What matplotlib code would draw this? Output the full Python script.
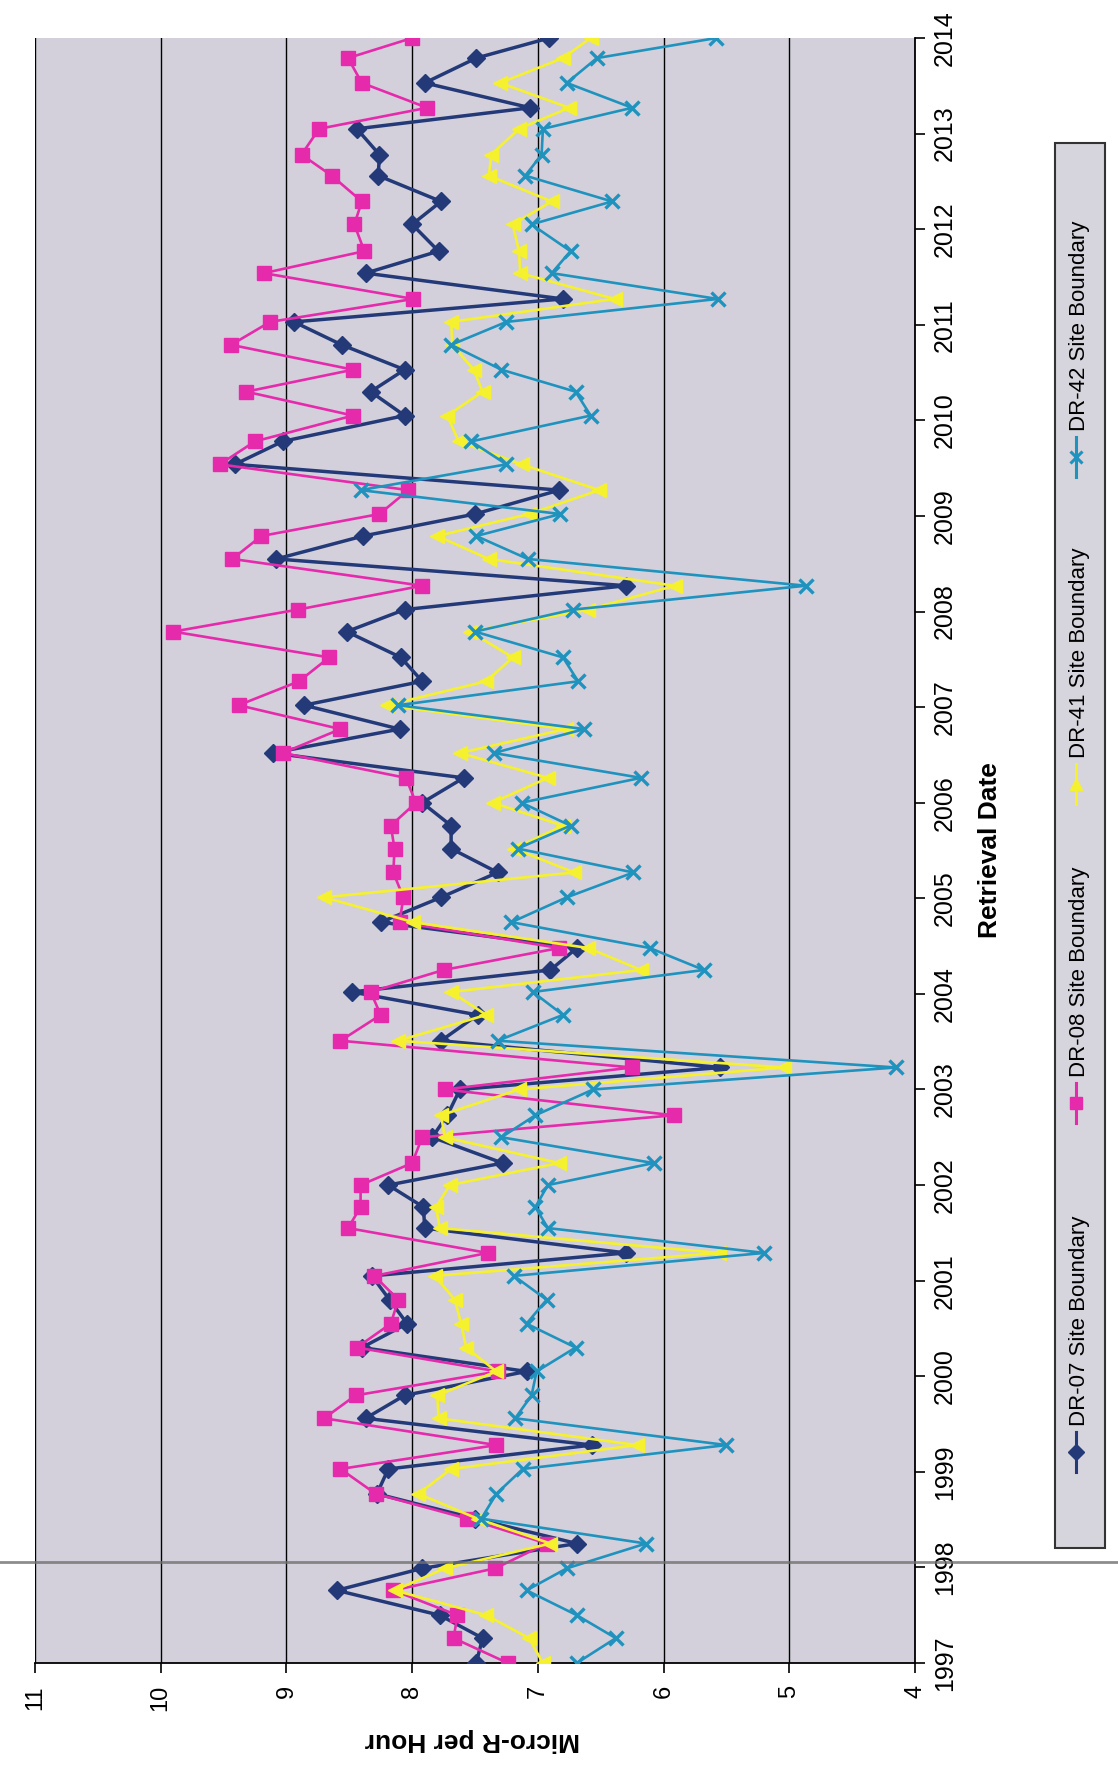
# Radiation monitoring chart (page is rotated: dates run upward, values run leftward)
import matplotlib
matplotlib.use("Agg")
import matplotlib.pyplot as plt
from matplotlib.lines import Line2D
from matplotlib.patches import Rectangle

# retrieval dates as decimal years
fechas = [1997.00, 1997.26, 1997.50, 1997.76, 1997.99,
          1998.25, 1998.51, 1998.77, 1999.03, 1999.28, 1999.56, 1999.80,
          2000.05, 2000.30, 2000.55, 2000.80, 2001.05, 2001.29, 2001.55, 2001.77,
          2002.00, 2002.23, 2002.50, 2002.73, 2003.00, 2003.23, 2003.51, 2003.78,
          2004.02, 2004.25, 2004.48, 2004.75, 2005.01, 2005.27, 2005.52, 2005.76,
          2006.00, 2006.26, 2006.52, 2006.77, 2007.02, 2007.27, 2007.52, 2007.79,
          2008.02, 2008.27, 2008.55, 2008.79, 2009.02, 2009.27, 2009.54, 2009.78,
          2010.05, 2010.30, 2010.53, 2010.79, 2011.03, 2011.27, 2011.54, 2011.77,
          2012.05, 2012.29, 2012.56, 2012.78, 2013.05, 2013.27, 2013.53, 2013.79, 2014.00]

# Micro-R per hour for each site
dr07 = [7.49, 7.44, 7.78, 8.60, 7.92,
        6.69, 7.50, 8.28, 8.19, 6.57, 8.37, 8.06,
        7.09, 8.40, 8.04, 8.18, 8.32, 6.30, 7.90, 7.91,
        8.19, 7.28, 7.84, 7.72, 7.62, 5.55, 7.77, 7.48,
        8.48, 6.90, 6.69, 8.25, 7.77, 7.32, 7.69, 7.69,
        7.92, 7.59, 9.11, 8.10, 8.86, 7.92, 8.09, 8.52,
        8.06, 6.30, 9.08, 8.39, 7.50, 6.83, 9.41, 9.03,
        8.06, 8.33, 8.06, 8.56, 8.94, 6.80, 8.37, 7.79,
        8.00, 7.77, 8.27, 8.26, 8.44, 7.06, 7.90, 7.49, 6.91]

dr08 = [7.24, 7.67, 7.64, 8.15, 7.34,
        6.93, 7.56, 8.29, 8.57, 7.33, 8.70, 8.45,
        7.32, 8.44, 8.17, 8.11, 8.30, 7.40, 8.51, 8.41,
        8.41, 8.00, 7.92, 5.92, 7.74, 6.25, 8.57, 8.25,
        8.33, 7.75, 6.83, 8.10, 8.07, 8.15, 8.14, 8.17,
        7.97, 8.05, 9.03, 8.57, 9.38, 8.90, 8.66, 9.90,
        8.91, 7.92, 9.43, 9.20, 8.26, 8.03, 9.53, 9.25,
        8.47, 9.32, 8.47, 9.44, 9.13, 7.99, 9.18, 8.38,
        8.46, 8.40, 8.64, 8.88, 8.74, 7.88, 8.40, 8.51, 8.00]

dr41 = [6.96, 7.07, 7.41, 8.14, 7.74,
        6.90, 7.48, 7.95, 7.69, 6.21, 7.79, 7.80,
        7.33, 7.57, 7.61, 7.66, 7.82, 5.56, 7.78, 7.81,
        7.70, 6.83, 7.74, 7.77, 7.15, 5.04, 8.11, 7.41,
        7.69, 6.18, 6.60, 7.99, 8.70, 6.71, 7.19, 6.80,
        7.36, 6.92, 7.62, 6.78, 8.20, 7.41, 7.20, 7.54,
        6.60, 5.91, 7.39, 7.80, 7.07, 6.51, 7.13, 7.63,
        7.72, 7.44, 7.51, 7.68, 7.69, 6.39, 7.14, 7.15,
        7.20, 6.89, 7.39, 7.37, 7.15, 6.75, 7.30, 6.80, 6.58]

dr42 = [6.69, 6.38, 6.69, 7.09, 6.77,
        6.14, 7.45, 7.33, 7.12, 5.50, 7.18, 7.05,
        7.01, 6.70, 7.09, 6.93, 7.19, 5.20, 6.92, 7.02,
        6.92, 6.08, 7.29, 7.02, 6.56, 4.15, 7.32, 6.80,
        7.04, 5.68, 6.11, 7.21, 6.77, 6.24, 7.16, 6.74,
        7.13, 6.18, 7.35, 6.63, 8.11, 6.68, 6.80, 7.50,
        6.72, 4.87, 7.08, 7.49, 6.82, 8.41, 7.25, 7.53,
        6.58, 6.70, 7.29, 7.69, 7.25, 5.57, 6.89, 6.74,
        7.05, 6.41, 7.10, 6.97, 6.96, 6.25, 6.77, 6.53, 5.58]

nombres = ["DR-07 Site Boundary", "DR-08 Site Boundary",
           "DR-41 Site Boundary", "DR-42 Site Boundary"]
valores_x = [4, 5, 6, 7, 8, 9, 10, 11]
anios = list(range(1997, 2015))

plt.rcParams['font.family'] = ['Liberation Sans', 'DejaVu Sans']

W, H = 1118, 1769
fig = plt.figure(figsize=(W / 100, H / 100), dpi=100)

# plot area in pixels of the page
izq, der, arriba, abajo = 35, 915, 38, 1663
ax = fig.add_axes([izq / W, (H - abajo) / H, (der - izq) / W, (abajo - arriba) / H])
ax.set_facecolor('#d3d0dc')

# style of every series: colour, marker, marker size, line width
estilos = [('#243a78', 'D', 9, 2.5),
           ('#e62aac', 's', 10, 1.9),
           ('#f6f12e', '<', 10, 1.9),
           ('#1f93bd', 'x', 10, 1.9)]

for serie, (color, marca, ms, lw) in zip([dr07, dr08, dr41, dr42], estilos):
    ax.plot(serie, fechas, color=color, marker=marca, markersize=ms, lw=lw,
            markeredgewidth=2.4 if marca == 'x' else 1, markeredgecolor=color, zorder=3)

# value axis runs from 11 at the left to 4 at the right
ax.set_xlim(11, 4)
ax.set_ylim(1997, 2014)
ax.set_xticks(valores_x)
ax.set_xticklabels([str(v) for v in valores_x], rotation=90, fontsize=17)
ax.set_yticks(anios)
ax.set_yticklabels([str(a) for a in anios], rotation=90, fontsize=18, va='center')
ax.yaxis.tick_right()
ax.tick_params(axis='x', length=7, width=1.2, pad=9, direction='out')
ax.tick_params(axis='y', length=7, width=1.2, pad=6, direction='out')

ax.grid(axis='x', color='black', lw=1.0)
ax.grid(axis='y', visible=False)
ax.set_axisbelow(True)

for lado in ['left', 'top']:
    ax.spines[lado].set_visible(False)
for lado in ['bottom', 'right']:
    ax.spines[lado].set_color('black')
    ax.spines[lado].set_linewidth(1.3)

# axis titles (rotated with the page)
fig.text(472 / W, (H - 1740) / H, "Micro-R per Hour", rotation=180,
         ha='center', va='center', fontsize=19, fontweight='bold')
fig.text(990 / W, (H - 850) / H, "Retrieval Date", rotation=90,
         ha='center', va='center', fontsize=19, fontweight='bold')

# legend box drawn by hand because it is turned on its side
fig.add_artist(Rectangle((1055 / W, (H - 1548) / H), 50 / W, 1405 / H,
                         transform=fig.transFigure, facecolor='#d6d4dc',
                         edgecolor='#333333', lw=1.5))
centros = [1452, 1103, 784, 457]
xc = 1076 / W
for nombre, (color, marca, ms, lw), yc in zip(nombres, estilos, centros):
    y0 = (H - yc - 20) / H
    y1 = (H - yc + 20) / H
    fig.add_artist(Line2D([xc, xc], [y0, y1], transform=fig.transFigure,
                          color=color, lw=2.2))
    fig.add_artist(Line2D([xc], [(H - yc) / H], transform=fig.transFigure,
                          color=color, marker='^' if marca == '<' else marca,
                          markersize=ms - 1, markeredgewidth=2.2 if marca == 'x' else 1))
    fig.text(xc + 3 / W, (H - yc + 26) / H, nombre, rotation=90,
             ha='center', va='bottom', fontsize=16)

# scanner streak across the page
fig.add_artist(Line2D([0, 1], [(H - 1562) / H] * 2, transform=fig.transFigure,
                      color='#707070', lw=2, alpha=0.8))

fig.savefig("out.png", dpi=100, facecolor='white')
